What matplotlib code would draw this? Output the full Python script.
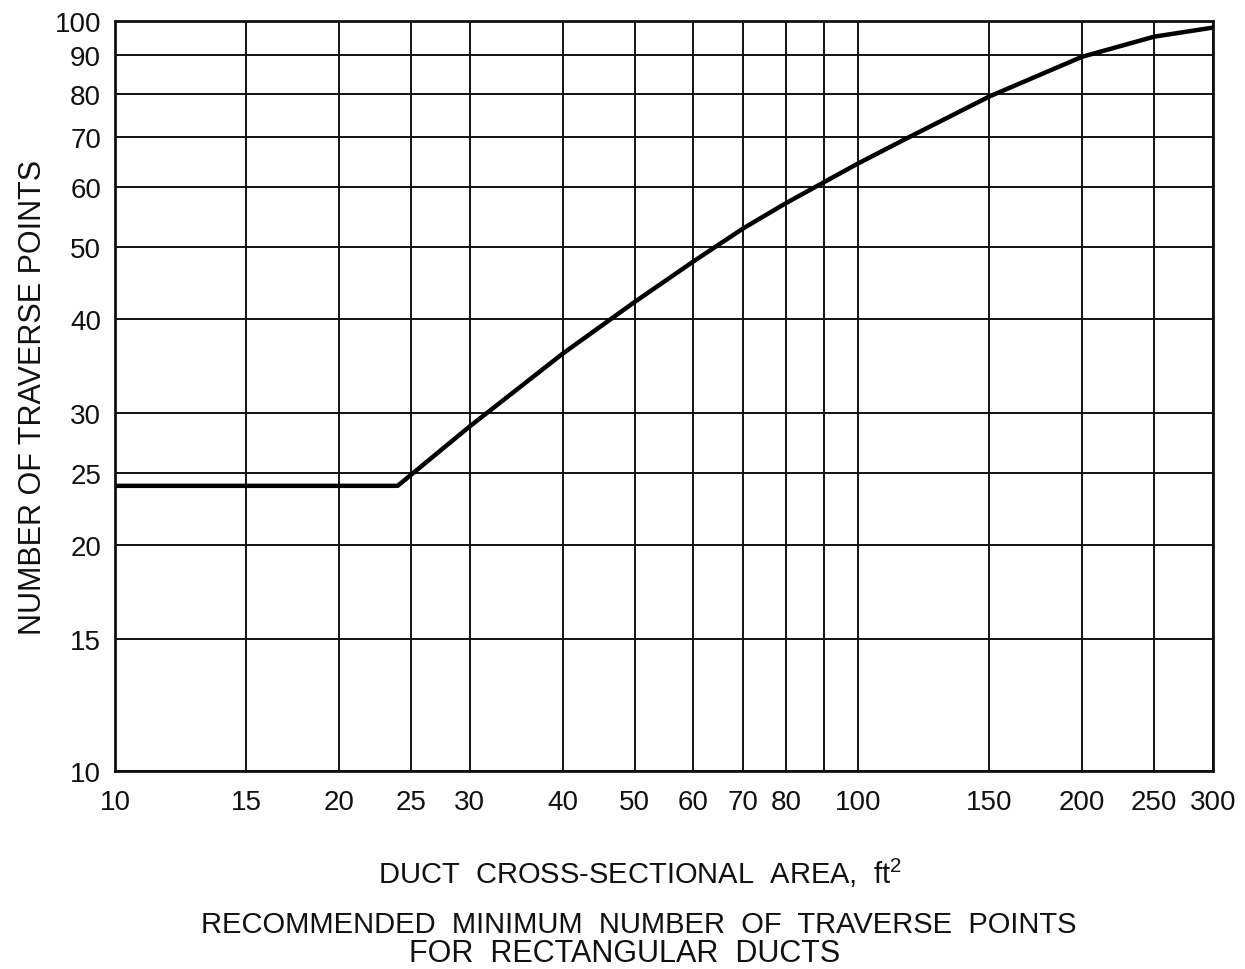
import numpy as np
import matplotlib
matplotlib.use('Agg')
import matplotlib.pyplot as plt

plt.rcParams['font.family'] = ['Liberation Sans', 'DejaVu Sans']
plt.rcParams['mathtext.fontset'] = 'custom'
plt.rcParams['mathtext.rm'] = 'Liberation Sans'

# curve at the grid lines (duct area ft2 -> traverse points)
area = [10, 24, 30, 40, 50, 60, 70, 80, 90, 100, 117, 150, 200, 250, 300]
points = [24, 24, 28.8, 36, 42.2, 47.8, 52.9, 57.2, 61.0, 64.6, 70.0, 79.3, 89.6, 95.3, 98]

x_grid = [10, 15, 20, 25, 30, 40, 50, 60, 70, 80, 90, 100, 150, 200, 250, 300]
x_labels = ['10', '15', '20', '25', '30', '40', '50', '60', '70', '80', '', '100', '150', '200', '250', '300']
y_grid = [10, 15, 20, 25, 30, 40, 50, 60, 70, 80, 90, 100]

fig = plt.figure(figsize=(12.45, 9.7), dpi=100)
ax = fig.add_axes([115 / 1245, 1 - 772 / 970, 1098 / 1245, 750 / 970])

ax.set_xscale('log')
ax.set_yscale('log')
ax.set_xlim(10, 300)
ax.set_ylim(10, 100)

ax.set_xticks(x_grid)
ax.set_xticklabels(x_labels)
ax.set_yticks(y_grid)
ax.set_yticklabels([str(v) for v in y_grid])
ax.minorticks_off()
ax.tick_params(length=0, labelsize=20, colors='#111111')
ax.tick_params(axis='x', pad=13)
ax.tick_params(axis='y', pad=10)

ax.grid(True, color='#111111', linewidth=1.4)
for s in ax.spines.values():
    s.set_linewidth(2.0)
    s.set_color('#111111')

ax.plot(area, points, color='black', linewidth=3.2, solid_joinstyle='round')

ax.set_ylabel('NUMBER OF TRAVERSE POINTS', fontsize=22, labelpad=5, color='#111111')

fig.text(0.514, 1 - 873 / 970, r'DUCT  CROSS-SECTIONAL  AREA,  ft$\mathrm{^2}$', ha='center', va='center',
         fontsize=21, color='#111111')
fig.text(0.513, 1 - 925 / 970, 'RECOMMENDED  MINIMUM  NUMBER  OF  TRAVERSE  POINTS',
         ha='center', va='center', fontsize=21, color='#111111')
fig.text(0.502, 1 - 954 / 970, 'FOR  RECTANGULAR  DUCTS', ha='center', va='center',
         fontsize=22, color='#111111')

fig.savefig('out.png', dpi=100, facecolor='white')
